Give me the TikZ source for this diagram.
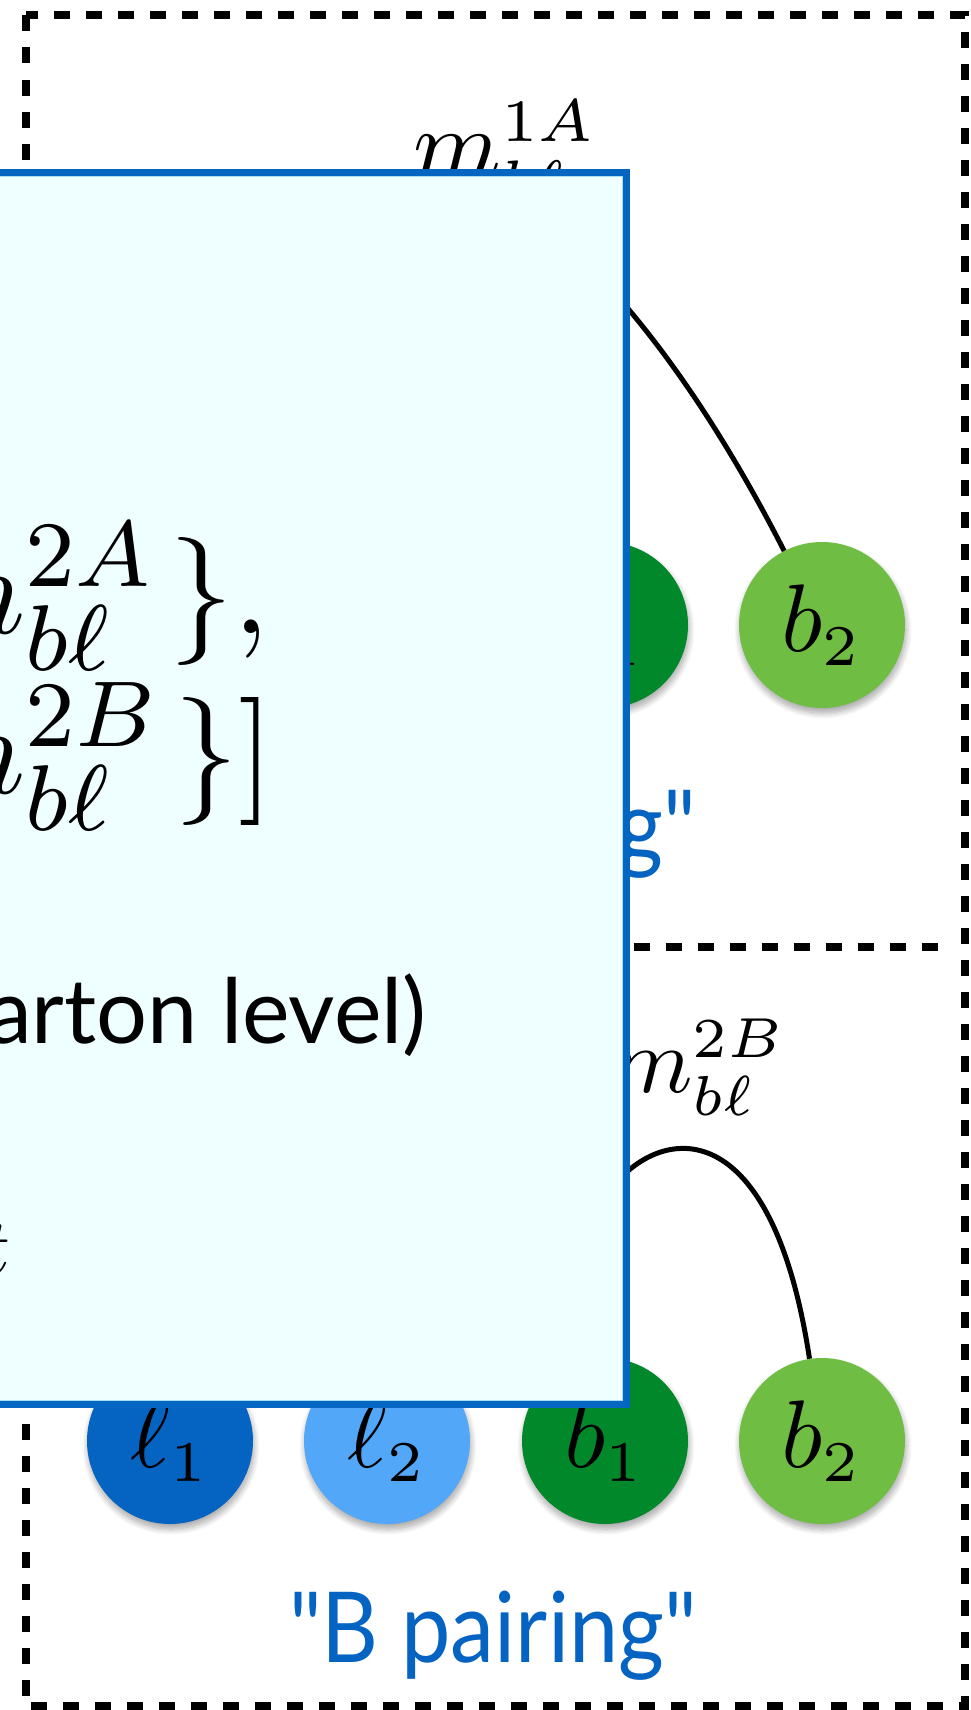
\documentclass[tikz,border=0pt]{standalone}
\usepackage{fontspec}
\newfontfamily\gillf{Lato}
\usetikzlibrary{shadows.blur}
\DeclareMathSizes{10}{10}{6}{5}
\definecolor{dblue}{HTML}{0563C1}
\definecolor{lblue}{HTML}{53A7F9}
\definecolor{dgreen}{HTML}{00882B}
\definecolor{lgreen}{HTML}{70BD44}
\definecolor{boxblue}{HTML}{0566C1}
\definecolor{boxfill}{HTML}{EFFFFF}
\definecolor{boxinner}{HTML}{A9DDF2}
\newcommand{\bigmath}[2]{\scalebox{#1}{#2}}
\newcommand{\boxmath}[1]{\scalebox{11.69}{\fontsize{10.95}{12}\selectfont $#1$}}
\newcommand{\narrow}[1]{\scalebox{0.9}[1]{#1}}
\begin{document}
\begin{tikzpicture}[x=1pt,y=-1pt,
  frame/.style={line width=8pt, draw=black, dash pattern=on 16pt off 16pt},
  pnode/.style={circle, minimum size=166pt, inner sep=0pt, text=black,
    blur shadow={shadow xshift=1pt, shadow yshift=-5pt, shadow blur radius=6pt, shadow blur steps=10, shadow opacity=35}},
  conn/.style={line width=5pt, draw=black},
  mlabel/.style={anchor=base west, inner sep=0pt},
  plabel/.style={anchor=base, inner sep=0pt, text=dblue, font=\gillf\fontsize{98}{98}\selectfont},
  boxtext/.style={anchor=base west, inner sep=0pt}]
\useasboundingbox (0,0) rectangle (971,1710);
\clip (0,0) rectangle (971,1710);
% dashed frames
\draw[frame] (25.5,15.5) rectangle (965,1706);
\draw[frame] (25.5,947) -- (944,947);
% top row (A pairing)
\node[pnode, fill=dgreen] (b1a) at (605,625) {\bigmath{9.6}{$b_1$}};
\node[pnode, fill=lgreen] (b2a) at (822,625) {\bigmath{9.6}{$b_2$}};
% bottom row (B pairing)
\node[pnode, fill=dblue] (l1b) at (170,1441) {\bigmath{9.6}{$\ell_1$}};
\node[pnode, fill=lblue] (l2b) at (387,1441) {\bigmath{9.6}{$\ell_2$}};
\node[pnode, fill=dgreen] (b1b) at (605,1441) {\bigmath{9.6}{$b_1$}};
\node[pnode, fill=lgreen] (b2b) at (822,1441) {\bigmath{9.6}{$b_2$}};
% connectors
\coordinate (sA) at (610,288);
\draw[conn] (sA) .. controls (667,351) and (727,439) .. (b2a);
\coordinate (sB) at (610,1190);
\draw[conn] (sB) .. controls (662,1122) and (772,1112) .. (b2b);
% labels
\node[mlabel] (m1A) at (413,178) {\bigmath{10}{$m_{b\ell}^{1A}$}};
\node[mlabel] (m2B) at (610,1092) {\bigmath{9.4}{$m_{b\ell}^{2B}$}};
\node[plabel] (pA) at (493,860) {\narrow{"A pairing"}};
\node[plabel] (pB) at (493,1662) {\narrow{"B pairing"}};
% box
\draw[line width=7pt, draw=boxblue, fill=boxfill] (-50,172.5) rectangle (626.5,1404.5);
\draw[line width=1pt, draw=boxinner] (-50,176.5) -- (622.5,176.5) -- (622.5,1400.5) -- (-50,1400.5);
% box text
\node[boxtext] (t1) at (-87,633) {\boxmath{m_{b\ell}^{2A}\mkern2mu\},}};
\node[boxtext] (t2) at (-87,793) {\boxmath{m_{b\ell}^{2B}\mkern2mu\}]}};
\node[anchor=base east, inner sep=0pt, font=\gillf\fontsize{90}{90}\selectfont] (t3) at (427,1043) {arton level)};
\node[anchor=base west, inner sep=0pt] (t4) at (-19,1274) {\bigmath{8}{$t$}};
\end{tikzpicture}
\end{document}
